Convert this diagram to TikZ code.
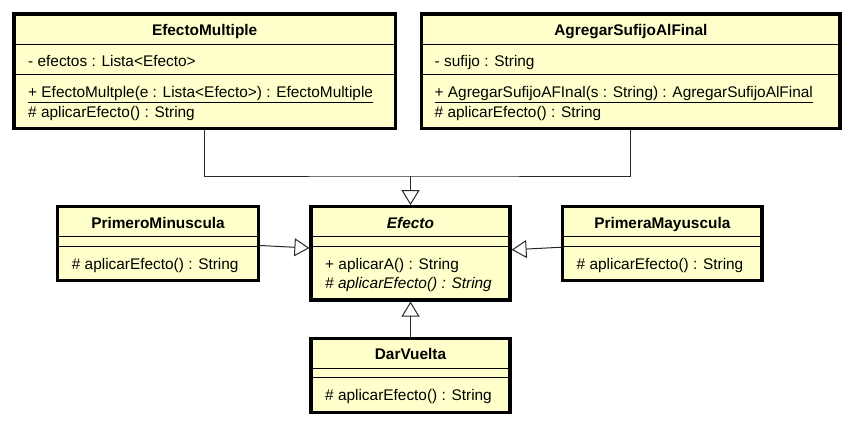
\documentclass[tikz,border=0pt]{standalone}
\usepackage{fontspec}
\setmainfont{Liberation Sans}
\usetikzlibrary{arrows.meta}

\definecolor{classfill}{RGB}{255,255,204}
\definecolor{linegray}{RGB}{40,40,40}

\tikzset{
    classbox/.style={rectangle, draw, line width=3.2pt, fill=classfill, inner sep=0pt},
    classname/.style={anchor=base, inner sep=0pt, font=\fontsize{15.4}{18}\selectfont\bfseries},
    member/.style={anchor=base west, inner sep=0pt},
    divider/.style={line width=1pt},
    link/.style={draw=linegray, line width=1pt},
    inherit/.style={link, -{Triangle[open, length=15pt, width=18pt, line width=1pt]}}
}

\begin{document}
\begin{tikzpicture}[x=1pt, y=-1pt, font=\fontsize{15.4}{18}\selectfont]
        \useasboundingbox (0,0) rectangle (853,426);

        % Classes
        \node (EfectoMultiple) [classbox, minimum width=381.3pt, minimum height=114.5pt] at (204.65, 71.25) {};
        \node (AgregarSufijoAlFinal) [classbox, minimum width=418.3pt, minimum height=114.5pt] at (630.85, 71.25) {};
        \node (Efecto) [classbox, minimum width=199pt, minimum height=93.3pt] at (410.5, 253.35) {};
        \node (PrimeroMinuscula) [classbox, minimum width=200.6pt, minimum height=74pt] at (158, 243.7) {};
        \node (PrimeraMayuscula) [classbox, minimum width=199.3pt, minimum height=74pt] at (662.3, 243.7) {};
        \node (DarVuelta) [classbox, minimum width=199pt, minimum height=74pt] at (410.5, 375.3) {};

        % Dividers
        \draw[divider] (14, 44) -- (395.3, 44);
        \draw[divider] (14, 74) -- (395.3, 74);
        \draw[divider] (421.7, 44) -- (840, 44);
        \draw[divider] (421.7, 74) -- (840, 74);
        \draw[divider] (311, 236.7) -- (510, 236.7);
        \draw[divider] (311, 246) -- (510, 246);
        \draw[divider] (57.7, 236.7) -- (258.3, 236.7);
        \draw[divider] (57.7, 246) -- (258.3, 246);
        \draw[divider] (562.7, 236.7) -- (762, 236.7);
        \draw[divider] (562.7, 246) -- (762, 246);
        \draw[divider] (311, 368.3) -- (510, 368.3);
        \draw[divider] (311, 377.6) -- (510, 377.6);

        % Names
        \node (nameEM) [classname] at (204.65, 35.5) {EfectoMultiple};
        \node (nameAS) [classname] at (630.85, 35.5) {AgregarSufijoAlFinal};
        \node (nameEf) [classname] at (410.5, 228.3) {\itshape Efecto};
        \node (namePMi) [classname] at (158, 228.3) {PrimeroMinuscula};
        \node (namePMa) [classname] at (662.3, 228.3) {PrimeraMayuscula};
        \node (nameDV) [classname] at (410.5, 359.8) {DarVuelta};

        % Members
        \node (attrEM) [member] at (28, 66.5) {- efectos : Lista<Efecto>};
        \node (ctorEM) [member] at (28, 97.5) {\underline{+ EfectoMultple(e : Lista<Efecto>) : EfectoMultiple}};
        \node (opEM) [member] at (28, 117) {\# aplicarEfecto() : String};

        \node (attrAS) [member] at (434.5, 66.5) {- sufijo : String};
        \node (ctorAS) [member] at (434.5, 97.5) {\underline{+ AgregarSufijoAFInal(s : String) : AgregarSufijoAlFinal}};
        \node (opAS) [member] at (434.5, 117) {\# aplicarEfecto() : String};

        \node (opEf1) [member] at (325, 269) {+ aplicarA() : String};
        \node (opEf2) [member] at (325, 288.3) {\itshape\# aplicarEfecto() : String};
        \node (opPMi) [member] at (71.7, 269) {\# aplicarEfecto() : String};
        \node (opPMa) [member] at (576.5, 269) {\# aplicarEfecto() : String};
        \node (opDV) [member] at (325, 400.6) {\# aplicarEfecto() : String};

        % Edges
        \coordinate (join) at (410.5, 176);
        \draw[link] (EfectoMultiple.south) |- (join) -| (AgregarSufijoAlFinal.south);
        \draw[inherit] (join) -- (Efecto.north);
        \draw[inherit] (PrimeroMinuscula.-1.9) -- (Efecto.177.5);
        \draw[inherit] (PrimeraMayuscula.182.2) -- (Efecto.2.5);
        \draw[inherit] (DarVuelta.north) -- (Efecto.south);

\end{tikzpicture}
\end{document}
